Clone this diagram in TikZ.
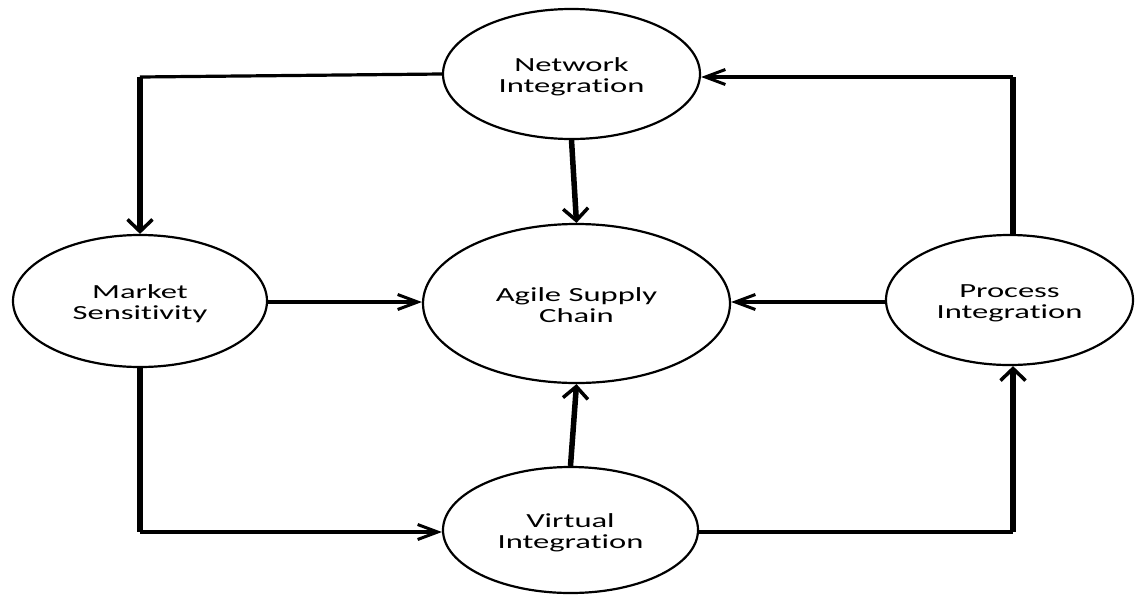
\documentclass[tikz,border=0pt]{standalone}
\usepackage{fontspec}
\setmainfont{Carlito}[RawFeature={-liga;-clig;-dlig;-calt;-rlig}]
\usetikzlibrary{shapes.geometric,arrows.meta}
\newcommand\elabel[2]{\raisebox{-4pt}[\height][\depth]{\scalebox{1.63}[1]{\begin{tabular}{@{}c@{}}#1\\[-1pt]#2\end{tabular}}}}
\tikzset{
  bubble/.style={ellipse, draw, line width=2.2pt, inner sep=0pt, font=\fontsize{20}{22}\selectfont},
  hconn/.style={line width=3.2pt},
  vconn/.style={line width=5.5pt},
  harrow/.style={-{Straight Barb[length=20pt,width=15pt,line width=3pt]}},
  varrow/.style={-{Straight Barb[length=12pt,width=25pt,line width=3.5pt]}},
}
\begin{document}
\begin{tikzpicture}[x=1pt,y=-1pt]
\useasboundingbox (0,0) rectangle (1135,595);
\node[bubble, minimum width=257pt, minimum height=130pt] (net) at (571.5,74) {\elabel{Network}{Integration}};
\node[bubble, minimum width=307pt, minimum height=159pt] (asc) at (576.5,303.5) {\elabel{Agile Supply}{Chain}};
\node[bubble, minimum width=254pt, minimum height=132pt] (mkt) at (140,301) {\elabel{Market}{Sensitivity}};
\node[bubble, minimum width=247pt, minimum height=130pt] (pro) at (1009.5,300) {\elabel{Process}{Integration}};
\node[bubble, minimum width=255pt, minimum height=126pt] (vir) at (570.5,530) {\elabel{Virtual}{Integration}};
\coordinate (tl) at (140,77);
\coordinate (tr) at (1013,77);
\coordinate (bl) at (140,532);
\coordinate (br) at (1013,532);
% Network -> Market
\draw[hconn] (net.west) -- (tl);
\draw[vconn, varrow] (tl) -- (mkt.north);
% Process -> Network
\draw[vconn] (pro.north -| tr) -- (tr);
\draw[hconn, harrow] (tr) -- (net.east |- tr);
% Market -> Virtual
\draw[vconn] (mkt.south) -- (bl);
\draw[hconn, harrow] (bl) -- (vir.west |- bl);
% Virtual -> Process
\draw[hconn] (vir.east |- br) -- (br);
\draw[vconn, varrow] (br) -- (pro.south -| br);
% center arrows
\draw[vconn, varrow] (net.south) -- (asc.north);
\draw[vconn, varrow] (vir.north) -- (asc.south);
\draw[hconn, harrow] (mkt.east |- 0,302) -- (asc.west |- 0,302);
\draw[hconn, harrow] (pro.west |- 0,302) -- (asc.east |- 0,302);
\end{tikzpicture}
\end{document}
